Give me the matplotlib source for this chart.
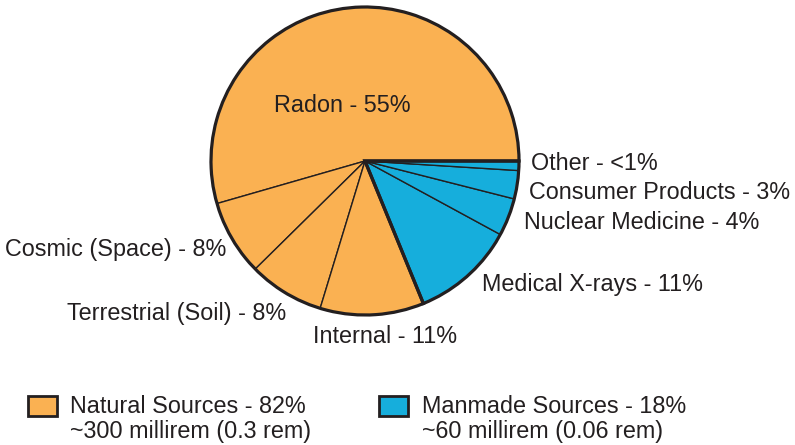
import matplotlib
matplotlib.use("Agg")
import matplotlib.pyplot as plt

# Average annual radiation dose by source (percent of total)
sources = ["Radon", "Cosmic (Space)", "Terrestrial (Soil)", "Internal",
           "Medical X-rays", "Nuclear Medicine", "Consumer Products", "Other"]
shares = [55, 8, 8, 11, 11, 4, 3, 1]
share_labels = ["55%", "8%", "8%", "11%", "11%", "4%", "3%", "<1%"]
groups = ["natural", "natural", "natural", "natural",
          "manmade", "manmade", "manmade", "manmade"]

group_names = ["Natural Sources", "Manmade Sources"]
group_keys = ["natural", "manmade"]
group_pct = [82, 18]
group_dose = ["~300 millirem (0.3 rem)", "~60 millirem (0.06 rem)"]

ORANGE = "#FAB152"
BLUE = "#16AEDC"
INK = "#231F20"
group_colors = {"natural": ORANGE, "manmade": BLUE}

plt.rcParams["font.family"] = ["Liberation Sans", "DejaVu Sans"]

W, H = 795, 445
fig = plt.figure(figsize=(W / 100, H / 100), dpi=100)

# pie placed by its centre and radius in pixels
cx, cy, r = 365, 161, 154
ax = fig.add_axes([(cx - r) / W, 1 - (cy + r) / H, 2 * r / W, 2 * r / H])

# individual wedges with thin separators
ax.pie(shares, colors=[group_colors[g] for g in groups], startangle=0,
       counterclock=True, radius=1,
       wedgeprops=dict(edgecolor=INK, linewidth=1.0))

# heavier outline around the two source groups
group_totals = [sum(s for s, g in zip(shares, groups) if g == k) for k in group_keys]
ax.pie(group_totals, colors=["none", "none"], startangle=0, counterclock=True,
       radius=1, wedgeprops=dict(edgecolor=INK, linewidth=2.3, fill=False))

ax.set_xlim(-1, 1)
ax.set_ylim(-1, 1)
ax.set_aspect("equal")
ax.axis("off")
for p in ax.patches:
    p.set_clip_on(False)

FS = 16.8

def px_text(x, y, s, ha="left"):
    fig.text(x / W, 1 - y / H, s, ha=ha, va="baseline", fontsize=FS, color=INK)

# slice labels (left x or centre, baseline y in pixels)
label_pos = [
    (342, 112, "center"),
    (226, 256, "right"),
    (286, 320, "right"),
    (313, 343, "left"),
    (482, 291, "left"),
    (524, 229, "left"),
    (529, 199, "left"),
    (531, 170, "left"),
]
for name, pct, (x, y, ha) in zip(sources, share_labels, label_pos):
    px_text(x, y, f"{name} - {pct}", ha=ha)

# legend
legend_pos = [(28, 70), (379, 422)]
for (bx, tx), name, pct, dose, key in zip(legend_pos, group_names, group_pct,
                                          group_dose, group_keys):
    fig.patches.append(plt.Rectangle((bx / W, 1 - 416 / H), 29 / W, 20 / H,
                                     transform=fig.transFigure,
                                     facecolor=group_colors[key],
                                     edgecolor=INK, linewidth=2.0))
    px_text(tx, 413, f"{name} - {pct}%")
    px_text(tx, 438, dose)

fig.savefig("out.png", dpi=100, facecolor="white")
